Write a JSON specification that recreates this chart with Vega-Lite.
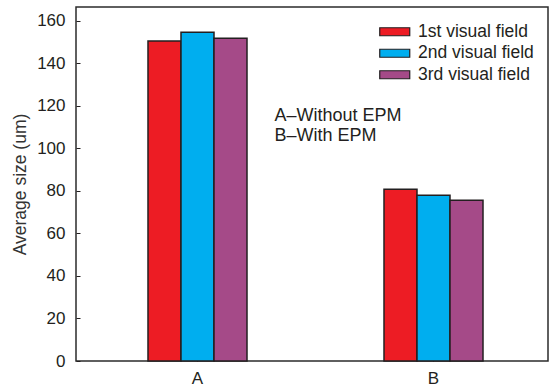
{
  "$schema": "https://vega.github.io/schema/vega-lite/v6.json",
  "width": 472,
  "height": 354,
  "autosize": {"type": "none"},
  "padding": {"left": 76, "top": 7, "right": 4, "bottom": 31},
  "background": "white",
  "config": {
    "font": "Liberation Sans",
    "view": {"stroke": "#2b2b2b", "strokeWidth": 1.5},
    "axis": {
      "domain": false,
      "grid": false,
      "tickSize": -4,
      "tickColor": "#231f20",
      "tickWidth": 1,
      "labelColor": "#231f20",
      "labelFont": "Liberation Sans",
      "labelFontSize": 17,
      "titleFont": "Liberation Sans",
      "titleFontWeight": "normal",
      "titleColor": "#333333"
    }
  },
  "layer": [
    {
      "data": {
        "values": [
          {"group": "A", "field": "1st visual field", "size": 150.5},
          {"group": "A", "field": "2nd visual field", "size": 154.6},
          {"group": "A", "field": "3rd visual field", "size": 151.8},
          {"group": "B", "field": "1st visual field", "size": 80.8},
          {"group": "B", "field": "2nd visual field", "size": 78.0},
          {"group": "B", "field": "3rd visual field", "size": 75.6}
        ]
      },
      "mark": {"type": "bar", "stroke": "#231f20", "strokeWidth": 1.5},
      "encoding": {
        "x": {
          "field": "group",
          "type": "nominal",
          "scale": {"paddingInner": 0.5805, "paddingOuter": 0.29025, "range": [3.5, 475.5]},
          "axis": {"title": null, "labelAngle": 0, "labelPadding": 13}
        },
        "xOffset": {
          "field": "field",
          "type": "nominal",
          "scale": {"paddingInner": 0, "paddingOuter": 0}
        },
        "y": {
          "field": "size",
          "type": "quantitative",
          "scale": {"domain": [0, 166.5], "nice": false},
          "axis": {
            "title": "Average size (um)",
            "titleFontSize": 17.5,
            "values": [0, 20, 40, 60, 80, 100, 120, 140, 160],
            "labelPadding": 15,
            "titlePadding": 7
          }
        },
        "color": {
          "field": "field",
          "type": "nominal",
          "scale": {
            "domain": ["1st visual field", "2nd visual field", "3rd visual field"],
            "range": ["#ed1c24", "#00aeef", "#a54a88"]
          },
          "legend": {
            "title": null,
            "orient": "none",
            "legendX": 310,
            "legendY": 16,
            "padding": 0,
            "symbolType": "M-3.75,-1H3.75V1H-3.75Z",
            "symbolSize": 64,
            "symbolStrokeColor": "#231f20",
            "symbolStrokeWidth": 1.2,
            "symbolOpacity": 1,
            "labelFontSize": 17.5,
            "labelFont": "Liberation Sans",
            "labelColor": "#231f20",
            "labelOffset": 14.5,
            "rowPadding": 2.5
          }
        }
      }
    },
    {
      "data": {
        "values": [
          {"note": "A–Without EPM", "pos": 113.0},
          {"note": "B–With EPM", "pos": 103.6}
        ]
      },
      "mark": {"type": "text", "align": "left", "baseline": "alphabetic", "dx": 77, "fontSize": 18, "font": "Liberation Sans", "color": "#231f20"},
      "encoding": {
        "x": {"datum": "A"},
        "y": {"field": "pos", "type": "quantitative"},
        "text": {"field": "note"}
      }
    }
  ]
}
